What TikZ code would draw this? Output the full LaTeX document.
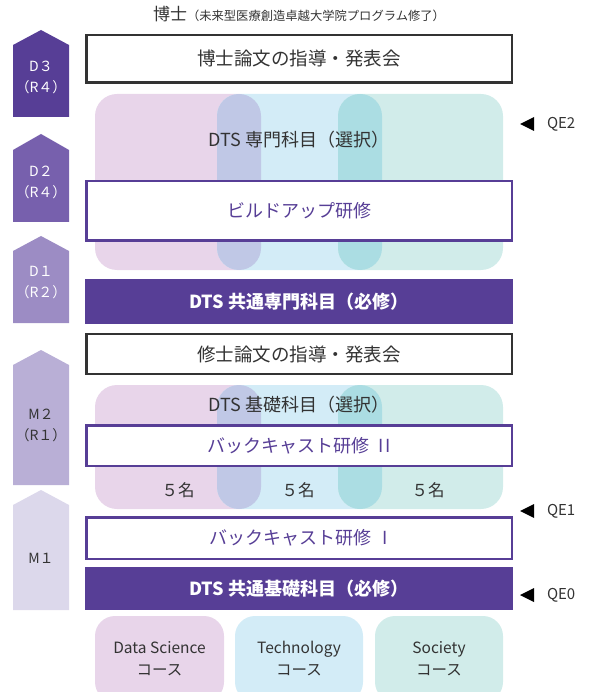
\documentclass[tikz,border=0pt]{standalone}
\usepackage{fontspec}
\setmainfont{Noto Sans CJK JP}
\definecolor{dpurple}{HTML}{573E96}
\definecolor{cD2}{HTML}{7760AD}
\definecolor{cD1}{HTML}{9C8CC4}
\definecolor{cM2}{HTML}{B9AFD6}
\definecolor{cM1}{HTML}{DCD8EB}
\definecolor{cpink}{HTML}{E8D5EA}
\definecolor{cblue}{HTML}{D3ECF7}
\definecolor{cteal}{HTML}{D1ECEA}
\definecolor{clav}{HTML}{C0C8E6}
\definecolor{cturq}{HTML}{ABDDE3}
\definecolor{txt}{HTML}{333333}
\begin{document}
\begin{tikzpicture}[x=1pt,y=-1pt,
  every node/.style={inner sep=0pt, outer sep=0pt, text=txt},
  blackbox/.style={draw=txt, line width=2.5pt, fill=white, minimum width=425.5pt, font=\fontsize{18.5}{22}\selectfont},
  purplebox/.style={draw=dpurple, line width=2.5pt, fill=white, minimum width=425.5pt, text=dpurple, font=\fontsize{18}{22}\selectfont},
  filledbox/.style={fill=dpurple, minimum width=428pt, text=white, font=\fontsize{18}{22}\selectfont\bfseries},
  lbl/.style={font=\fontsize{18}{22}\selectfont},
  numlbl/.style={font=\fontsize{16.5}{20}\selectfont},
  stagelbl/.style={align=center, font=\fontsize{14}{21}\selectfont},
  qe/.style={font=\fontsize{15}{18}\selectfont, anchor=west},
  course/.style={align=center, font=\fontsize{15.5}{22}\selectfont},
]
\useasboundingbox (0,0) rectangle (598,692);

% title
\node (title) at (299,14) {{\fontsize{17}{20}\selectfont 博士}{\fontsize{12.3}{14}\selectfont （未来型医療創造卓越大学院プログラム修了）}};

% stage arrows
\fill[dpurple] (13,45) -- (41,30) -- (69,45) -- (69,117) -- (13,117) -- cycle;
\node[stagelbl, text=white] (d3) at (41,77) {D３\\（R４）};
\fill[cD2] (13,150) -- (41,134) -- (69,150) -- (69,222) -- (13,222) -- cycle;
\node[stagelbl, text=white] (d2) at (41,182) {D２\\（R４）};
\fill[cD1] (13,251) -- (41,236) -- (69,251) -- (69,323) -- (13,323) -- cycle;
\node[stagelbl, text=white] (d1) at (41,283) {D１\\（R２）};
\fill[cM2] (13,365) -- (41,350) -- (69,365) -- (69,485) -- (13,485) -- cycle;
\node[stagelbl] (m2) at (41,425) {M２\\（R１）};
\fill[cM1] (13,505) -- (41,490) -- (69,505) -- (69,610) -- (13,610) -- cycle;
\node[stagelbl] (m1) at (41,558) {M１};

% background areas (three overlapping course columns)
\foreach \ya/\yb in {94/270, 385/509}{
  \fill[cpink, rounded corners=22pt] (95,\ya) rectangle (261,\yb);
  \fill[cblue, rounded corners=22pt] (217,\ya) rectangle (382,\yb);
  \fill[cteal, rounded corners=22pt] (338,\ya) rectangle (503,\yb);
  \begin{scope}
    \clip[rounded corners=22pt] (95,\ya) rectangle (261,\yb);
    \fill[clav, rounded corners=22pt] (217,\ya) rectangle (382,\yb);
  \end{scope}
  \begin{scope}
    \clip[rounded corners=22pt] (217,\ya) rectangle (382,\yb);
    \fill[cturq, rounded corners=22pt] (338,\ya) rectangle (503,\yb);
  \end{scope}
}

% boxes
\node[blackbox, minimum height=47.5pt] (phd) at (299,59) {博士論文の指導・発表会};
\node[lbl] (senmon) at (299,140) {DTS 専門科目（選択）};
\node[purplebox, minimum height=59.5pt] (build) at (299,211) {ビルドアップ研修};
\node[filledbox, minimum height=45pt] (kyotsu1) at (299,301.5) {DTS 共通専門科目（必修）};
\node[blackbox, minimum height=40pt] (master) at (299,354) {修士論文の指導・発表会};
\node[lbl] (kiso) at (299,405) {DTS 基礎科目（選択）};
\node[purplebox, minimum height=40.5pt] (back2) at (299,445.5) {バックキャスト研修\hspace{9pt}I\hspace{2pt}I};
\node[numlbl] (n1) at (178,490) {５名};
\node[numlbl] (n2) at (298,490) {５名};
\node[numlbl] (n3) at (428,490) {５名};
\node[purplebox, minimum height=41.5pt] (back1) at (299,538) {バックキャスト研修\hspace{11pt}I};
\node[filledbox, minimum height=43pt] (kyotsu2) at (299,588.5) {DTS 共通基礎科目（必修）};

% QE markers
\foreach \y/\t in {124/QE2, 511/QE1, 595/QE0}{
  \fill[black] (520,\y) -- (534,\y-7) -- (534,\y+7) -- cycle;
  \node[qe] (q\t) at (547,\y) {\t};
}

% course boxes
\begin{scope}
  \clip (0,0) rectangle (598,692);
  \fill[cpink, rounded corners=20pt] (95,616) rectangle (224,702);
  \fill[cblue, rounded corners=20pt] (235,616) rectangle (363,702);
  \fill[cteal, rounded corners=20pt] (375,616) rectangle (503,702);
\end{scope}
\node[course] (ds) at (159.5,659) {Data Science\\コース};
\node[course] (tech) at (299,659) {Technology\\コース};
\node[course] (soc) at (439,659) {Society\\コース};
\end{tikzpicture}
\end{document}
